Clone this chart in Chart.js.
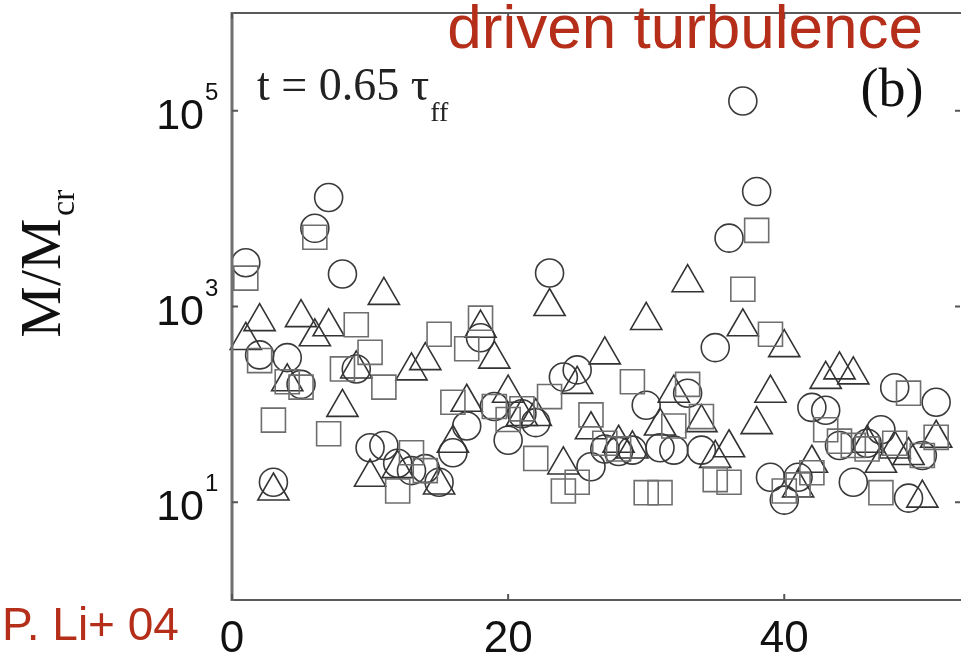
<!DOCTYPE html>
<html>
<head>
<meta charset="utf-8">
<script src="https://cdn.jsdelivr.net/npm/chart.js@4/dist/chart.umd.min.js"></script>
<style>
  html, body { margin: 0; padding: 0; background: #fff; }
  #wrap { width: 961px; height: 656px; position: relative; }
  canvas { display: block; }
</style>
</head>
<body>
<div id="wrap"><canvas id="c" width="961" height="656"></canvas></div>
<script>
// Core index along the x axis
const cores = [1,2,3,4,5,6,7,8,9,10,11,12,13,14,15,16,17,18,19,20,21,22,23,24,25,26,
  27,28,29,30,31,32,33,34,35,36,37,38,39,40,41,42,43,44,45,46,47,48,49,50,51];

// Core mass over critical mass, one list per marker family
const massCircle = [2800,320,16,300,160,6300,13000,2150,230,36,38,25,21,22,16,32,60,480,95,43,
  80,65,2200,190,225,23,35,33,34,98,36,34,130,34,380,5000,126000,15000,18,10.5,
  18,93,87,38,16,40,55,148,11,30,105];
const massSquare = [1950,280,69,170,150,5100,50,230,650,340,150,13,32,21,520,105,370,760,95,70,
  90,28,120,13,16,78,40,35,170,12.5,12.5,60,160,75,17,16,1500,6000,520,13,
  15,20,55,42,38,35,12.5,40,130,30,46];
const massTriangle = [450,700,13,170,770,490,620,93,230,18,1300,22,220,280,15,40,105,600,290,130,
  75,75,1000,24,160,55,320,40,35,720,60,130,1750,65,28,36,620,62,130,380,
  14,25,180,225,200,40,25,35,30,11,45];

// Axis ticks
const xTicks = [0, 20, 40];
const yTickExponents = [1, 3, 5];

const pts = (vals) => cores.map((c, i) => ({ x: c, y: vals[i] }));

const RED = 'rgb(181,46,26)';
const SERIF = '"Liberation Serif", "Times New Roman", serif';
const SANS = '"Liberation Sans", Arial, sans-serif';

const framePlugin = {
  id: 'frame',
  afterDatasetsDraw(chart) {
    const { ctx, chartArea: a, scales: { x, y } } = chart;
    ctx.save();
    // frame lines
    ctx.strokeStyle = '#5a5a5a';
    ctx.lineWidth = 2;
    ctx.beginPath();
    ctx.moveTo(a.left, a.top); ctx.lineTo(a.right + 2, a.top);
    ctx.moveTo(a.left, a.bottom); ctx.lineTo(a.right + 2, a.bottom);
    ctx.stroke();
    ctx.strokeStyle = '#707070';
    ctx.lineWidth = 3;
    ctx.beginPath();
    ctx.moveTo(a.left, a.top - 1); ctx.lineTo(a.left, a.bottom + 1);
    ctx.stroke();

    // inward tick marks
    ctx.strokeStyle = '#555';
    ctx.lineWidth = 2;
    ctx.beginPath();
    xTicks.forEach(v => {
      const px = x.getPixelForValue(v);
      ctx.moveTo(px, a.bottom); ctx.lineTo(px, a.bottom - 6);
      ctx.moveTo(px, a.top); ctx.lineTo(px, a.top + 6);
    });
    yTickExponents.forEach(e => {
      const py = y.getPixelForValue(Math.pow(10, e));
      ctx.moveTo(a.left, py); ctx.lineTo(a.left + 6, py);
      ctx.moveTo(a.right - 1, py); ctx.lineTo(a.right - 6, py);
    });
    ctx.stroke();

    // tick labels
    ctx.fillStyle = '#111';
    ctx.font = '44px ' + SANS;
    ctx.textAlign = 'center';
    ctx.textBaseline = 'alphabetic';
    xTicks.forEach(v => {
      ctx.fillText(String(v), x.getPixelForValue(v), 652);
    });
    yTickExponents.forEach(e => {
      const py = y.getPixelForValue(Math.pow(10, e));
      ctx.font = '43px ' + SANS;
      ctx.textAlign = 'right';
      ctx.fillText('10', 204, py + 18);
      ctx.font = '24px ' + SANS;
      ctx.textAlign = 'left';
      ctx.fillText(String(e), 205, py - 11);
    });

    // y axis title, rotated
    ctx.save();
    ctx.translate(60, 278);
    ctx.rotate(-Math.PI / 2);
    ctx.textAlign = 'center';
    ctx.font = '58px ' + SERIF;
    ctx.fillText('M/M', 0, 0);
    ctx.textAlign = 'left';
    ctx.font = '34px ' + SERIF;
    ctx.fillText('cr', 62, 14);
    ctx.restore();

    // panel annotations
    ctx.textAlign = 'left';
    ctx.font = '46px ' + SERIF;
    ctx.fillStyle = '#222';
    const tLabel = 't = 0.65 τ';
    ctx.fillText(tLabel, 257, 100);
    const tw = ctx.measureText(tLabel).width;
    ctx.font = '28px ' + SERIF;
    ctx.fillText('ff', 257 + tw + 1, 121);
    ctx.font = '54px ' + SERIF;
    ctx.fillStyle = '#111';
    ctx.textAlign = 'center';
    ctx.fillText('(b)', 892, 106);

    // red labels
    ctx.fillStyle = RED;
    ctx.textAlign = 'right';
    ctx.font = '62px ' + SANS;
    ctx.fillText('driven turbulence', 923, 48);
    ctx.textAlign = 'left';
    ctx.font = '46px ' + SANS;
    ctx.fillText('P. Li+ 04', 2, 640);
    ctx.restore();
  }
};

const common = {
  showLine: false,
  backgroundColor: 'rgba(0,0,0,0)',
  borderWidth: 1.6,
  clip: false
};

new Chart(document.getElementById('c'), {
  type: 'scatter',
  data: {
    datasets: [
      Object.assign({ label: 'squares', data: pts(massSquare), pointStyle: 'rect',
        pointRadius: 17, borderColor: '#6e6e6e' }, common),
      Object.assign({ label: 'triangles', data: pts(massTriangle), pointStyle: 'triangle',
        pointRadius: 18, borderColor: '#333' }, common),
      Object.assign({ label: 'circles', data: pts(massCircle), pointStyle: 'circle',
        pointRadius: 14, borderColor: '#3a3a3a' }, common)
    ]
  },
  options: {
    responsive: false,
    animation: false,
    events: [],
    layout: { autoPadding: false, padding: { left: 232, top: 13, right: 0, bottom: 56 } },
    plugins: { legend: { display: false }, tooltip: { enabled: false } },
    scales: {
      x: { type: 'linear', min: 0, max: 52.8, display: false },
      y: { type: 'logarithmic', min: 1, max: 1e6, display: false }
    }
  },
  plugins: [framePlugin]
});
</script>
</body>
</html>
